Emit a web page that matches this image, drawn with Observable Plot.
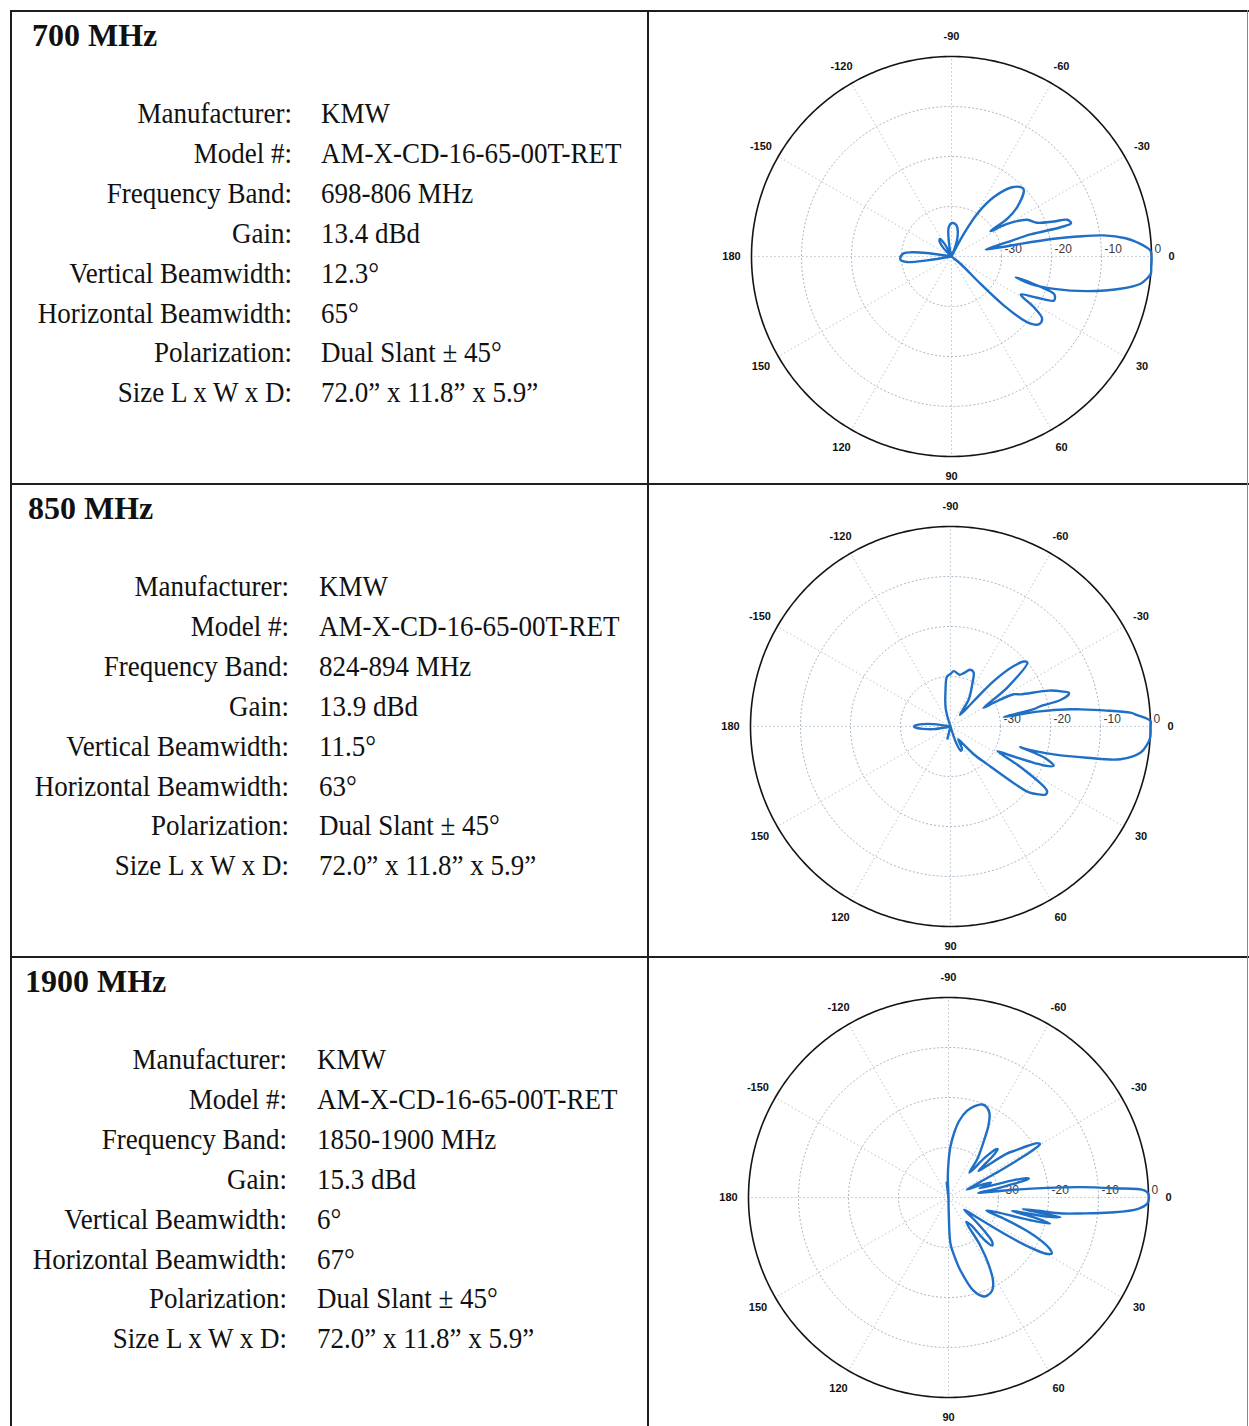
<!DOCTYPE html>
<html><head><meta charset="utf-8">
<script src="https://cdn.jsdelivr.net/npm/d3@7"></script>
<script src="https://cdn.jsdelivr.net/npm/@observablehq/plot@0.6"></script>
<style>
body{margin:0;background:#fff;}
#page{position:relative;width:1249px;height:1426px;overflow:hidden;font-family:"Liberation Serif","Times New Roman",serif;color:#111;background:#fff;}
.hl{position:absolute;background:#1e1e1e;height:2px;}
.vl{position:absolute;background:#1e1e1e;width:2px;}
.title{position:absolute;font-weight:bold;font-size:32px;line-height:36px;white-space:nowrap;}
.lab{position:absolute;font-size:27px;line-height:30px;white-space:nowrap;text-align:right;transform-origin:0 24px;transform:scaleY(1.1);}
.val{position:absolute;font-size:27px;line-height:30px;white-space:nowrap;transform-origin:0 24px;transform:scaleY(1.1);}
.polar{position:absolute;}
</style></head><body><div id="page"></div>
<script>
// ---------- data ----------
const bands = ["700 MHz", "850 MHz", "1900 MHz"];
const fieldLabels = ["Manufacturer:", "Model #:", "Frequency Band:", "Gain:", "Vertical Beamwidth:", "Horizontal Beamwidth:", "Polarization:", "Size L x W x D:"];
const values700 = ["KMW", "AM-X-CD-16-65-00T-RET", "698-806 MHz", "13.4 dBd", "12.3°", "65°", "Dual Slant ± 45°", "72.0” x 11.8” x 5.9”"];
const values850 = ["KMW", "AM-X-CD-16-65-00T-RET", "824-894 MHz", "13.9 dBd", "11.5°", "63°", "Dual Slant ± 45°", "72.0” x 11.8” x 5.9”"];
const values1900 = ["KMW", "AM-X-CD-16-65-00T-RET", "1850-1900 MHz", "15.3 dBd", "6°", "67°", "Dual Slant ± 45°", "72.0” x 11.8” x 5.9”"];

const angleTicks = [0, 30, 60, 90, 120, 150, 180, -150, -120, -90, -60, -30];
const ringTicks = [-30, -20, -10, 0];
const dbFloor = -40;

// [angle (deg, clockwise from right), relative level (dB)]
const pattern700 = [
  [-180,-29.8],[-176,-30.5],[-174,-32],[-172,-35],[-169,-40],[-137,-40],[-133,-37.5],[-127,-36],
  [-123.5,-35.8],[-119,-37],[-113,-40],[-105,-40],[-102,-38.1],[-95.3,-34.1],[-88.8,-33.3],
  [-80.8,-33.7],[-72,-36.2],[-68,-40],[-66,-40],[-61.5,-34.8],[-58.9,-30],[-54.5,-25.4],
  [-48.8,-21.6],[-44.2,-20.3],[-42.4,-20.4],[-36.9,-23.6],[-34.1,-26.5],[-33,-30.7],
  [-30.4,-27.1],[-25.9,-23.2],[-21.5,-21.6],[-18.9,-18.4],[-17.6,-15.7],[-15.5,-15.2],
  [-15,-17.4],[-15.6,-23.6],[-14.4,-28.5],[-11.5,-33],[-10.6,-30],[-10.4,-26],[-9.8,-19.2],
  [-9,-14.5],[-7.9,-9.3],[-6,-5],[-4.4,-2.8],[-1.7,-0.2],[0,0],[3,0],[5,0],[6.5,-0.7],
  [8.2,-1.8],[10.8,-5.6],[14.3,-12],[17.5,-18.5],[19.1,-23.3],[17.9,-26.5],[20,-18.2],
  [21.8,-17.7],[23.3,-17.7],[25.7,-21],[28.8,-24.2],[31.6,-20.7],[34.5,-18],[37.9,-17.9],
  [41,-20],[43.1,-25.7],[43.3,-32],[39,-37.7],[45,-40],[168,-40],[171,-35],[173,-31],
  [176,-29.8],[180,-29.8]
];
const pattern850 = [
  [-180,-32.7],[-178,-33],[-175,-34.5],[-172,-36.6],[-169,-40],[-112,-40],[-105,-36.3],
  [-98,-32.8],[-94,-30],[-90,-29.5],[-86.6,-28.9],[-80,-29.5],[-76,-29],[-71,-28],[-67,-28.2],
  [-62.8,-30.5],[-56,-33.5],[-51,-37],[-47.6,-33.1],[-46.4,-27.4],[-43.7,-22.5],[-41.5,-20.4],
  [-39.8,-20],[-34.4,-26.3],[-29.5,-32.4],[-28.8,-30.1],[-27,-25.8],[-24.7,-24.6],[-20,-19],
  [-17.1,-16.3],[-16,-15.4],[-15.2,-15.5],[-13.5,-17.5],[-12.8,-21.5],[-11.8,-23],[-10.1,-29.2],
  [-9.7,-22.4],[-8.2,-15.8],[-7.5,-13.8],[-6,-9.2],[-4.4,-3.9],[-3.5,-2.6],[-1.6,0],[0,0],
  [3.2,0],[5.5,-0.6],[7.8,-1.6],[10.9,-5.4],[12.9,-12],[15.1,-18.6],[16.6,-24.7],[16.5,-25.5],
  [18.5,-20],[20.9,-17.9],[22.5,-19.5],[23.5,-21.8],[26,-27],[27.7,-29.4],[30,-24],
  [33.7,-16.8],[35.5,-16.6],[37.5,-17.7],[40,-19.5],[41.8,-23],[45.8,-29.5],[50,-32.7],
  [55,-36],[59,-37],[63,-35],[67,-34.7],[71,-36.5],[75,-40],[96,-40],[104,-37.5],[110,-40],
  [168,-40],[171,-36.6],[175,-34.5],[178,-33],[180,-32.7]
];
const pattern1900 = [
  [-180,-40],[-100,-40],[-97,-37],[-94,-40],[-92,-36],[-90,-33],[-88,-30],[-85,-27],
  [-82,-24.5],[-78,-22.3],[-74,-21],[-70,-20.2],[-67,-20.4],[-64,-21.3],[-61,-23.5],
  [-57,-27.5],[-53,-30.5],[-50,-33.5],[-47.5,-29],[-45.5,-26.5],[-44.5,-26.2],[-43,-28],
  [-41.5,-32],[-39.5,-30],[-37,-25.5],[-35,-23.5],[-33,-21],[-31.5,-19.2],[-30.3,-18.8],
  [-29.3,-20.5],[-28.5,-24],[-27.5,-28.5],[-26,-33],[-23,-36],[-21,-33],[-19.5,-31],[-18,-31.5],
  [-16.5,-33.5],[-15,-27],[-14,-24],[-13.3,-23.5],[-12.5,-24.5],[-11.5,-28],[-10,-31.5],
  [-8.5,-34],[-7,-28],[-5.6,-20.2],[-4.5,-13.5],[-3.2,-6.9],[-2.1,-0.8],[-1,0],[1,0],
  [1.7,-0.2],[3.4,-2],[5.3,-7.5],[6.9,-13.4],[8,-17],[8.5,-22],[9,-25],[10,-17.3],[11,-20],
  [12,-27],[13.3,-22],[14.5,-19],[15.5,-23],[17,-30],[19,-32],[21,-28],[23,-23],[25,-19.5],
  [27,-17.2],[28.5,-16.5],[30,-17.5],[31.5,-21],[33,-26.5],[35,-33],[38,-36],[41,-33],
  [43.5,-29.5],[45.5,-27.5],[47.8,-27],[49.5,-28.5],[51,-33],[54,-34],[56.5,-28.5],[59,-24.5],
  [62,-21],[65,-19.4],[68.5,-18.9],[70.5,-19],[75,-20.7],[80.7,-25.2],[84,-28],[87.5,-30.7],
  [89,-36.7],[92,-40],[180,-40]
];

// ---------- layout ----------
const page = document.getElementById("page");
function el(cls, css, text) {
  const d = document.createElement("div");
  d.className = cls;
  Object.assign(d.style, css);
  if (text != null) d.textContent = text;
  page.appendChild(d);
  return d;
}
// table rules
el("hl", {left: "10px", top: "10px", width: "1239px"});
el("hl", {left: "10px", top: "483px", width: "1239px"});
el("hl", {left: "10px", top: "956px", width: "1239px"});
el("vl", {left: "10px", top: "10px", height: "1416px"});
el("vl", {left: "647px", top: "10px", height: "1416px"});
el("vl", {left: "1247px", top: "10px", height: "1416px", width: "1px", background: "#888"});

const rowTops = [11, 484, 957];
const titleLeft = [32, 28, 25];
const labelRight = [292, 289, 287];
const valueLeft = [321, 319, 317];
const rowValues = [values700, values850, values1900];
const patterns = [pattern700, pattern850, pattern1900];
const centers = [[951, 256], [950, 725.5], [948, 1197]];

function polarChart(pattern) {
  const rad = db => Math.max(db, dbFloor) - dbFloor;
  const px = (a, db) => rad(db) * Math.cos(a * Math.PI / 180);
  const py = (a, db) => rad(db) * Math.sin(a * Math.PI / 180);
  const ringPts = ringTicks.slice(0, -1).flatMap(level => d3.range(0, 361, 2).map(a => ({level, a})));
  const outerPts = d3.range(0, 361, 1).map(a => ({level: 0, a}));
  const grid = {stroke: "#aab7c5", strokeWidth: 1, strokeDasharray: "1.2,2.8"};
  return Plot.plot({
    width: 560, height: 470, margin: 0,
    x: {domain: [-56, 56], axis: null},
    y: {domain: [-47, 47], reverse: true, axis: null},
    style: {background: "transparent", overflow: "visible"},
    marks: [
      Plot.line(ringPts, {x: d => px(d.a, d.level), y: d => py(d.a, d.level), z: "level", ...grid}),
      Plot.link(angleTicks, {x1: 0, y1: 0, x2: a => px(a, 0), y2: a => py(a, 0), ...grid}),
      Plot.line(outerPts, {x: d => px(d.a, d.level), y: d => py(d.a, d.level), stroke: "#141414", strokeWidth: 1.6}),
      Plot.text(ringTicks, {x: v => rad(v), y: 0, text: v => String(v), dx: 3, dy: -7, textAnchor: "start",
        fontSize: 12, fill: "#3a3a3a", fontFamily: "Liberation Sans, Arial, sans-serif"}),
      Plot.line(pattern, {x: d => px(d[0], d[1]), y: d => py(d[0], d[1]), stroke: "#1f6fc6",
        strokeWidth: 2.4, curve: "catmull-rom", strokeLinejoin: "round"}),
      Plot.text(angleTicks, {x: a => px(a, 4), y: a => py(a, 4), text: a => String(a), fontSize: 11,
        fontWeight: "bold", fill: "#111", fontFamily: "Liberation Sans, Arial, sans-serif"})
    ]
  });
}

bands.forEach((band, r) => {
  const top = rowTops[r];
  el("title", {left: titleLeft[r] + "px", top: (top + 6) + "px"}, band);
  fieldLabels.forEach((lab, i) => {
    const base = top + 112 + 39.9 * i;
    el("lab", {left: "0px", width: labelRight[r] + "px", top: (base - 24) + "px"}, lab);
    el("val", {left: valueLeft[r] + "px", top: (base - 24) + "px"}, rowValues[r][i]);
  });
  const svg = polarChart(patterns[r]);
  const wrap = el("polar", {left: (centers[r][0] - 280) + "px", top: (centers[r][1] - 235) + "px", width: "560px", height: "470px"});
  wrap.appendChild(svg);
});
</script></body></html>
